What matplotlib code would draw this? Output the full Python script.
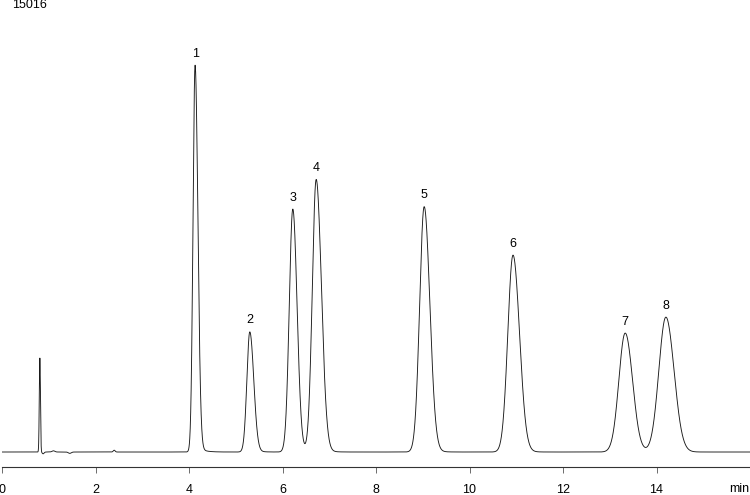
#Chromatogram with 8 numbered peaks

#Importing libraries
import numpy as np
import matplotlib.pyplot as plt

plt.rcParams['font.family'] = ['Liberation Sans', 'DejaVu Sans']

#Peak table (retention time in min, height, width, tailing)
peak_labels = ['1', '2', '3', '4', '5', '6', '7', '8']
peak_times = [4.13, 5.30, 6.22, 6.72, 9.03, 10.93, 13.33, 14.20]
peak_heights = [12850, 3990, 8070, 9050, 8150, 6540, 3950, 4480]
peak_sigmas = [0.044, 0.062, 0.075, 0.082, 0.096, 0.110, 0.135, 0.150]
peak_tailing = [1.35, 1.35, 1.2, 1.35, 1.25, 1.25, 1.15, 1.15]

#Unlabelled features: injection spike and small baseline wiggles
small_times = [0.81, 0.88, 1.10, 1.45, 2.40]
small_heights = [3120, -60, 40, -45, 60]
small_sigmas = [0.012, 0.02, 0.03, 0.03, 0.02]

y_top = 15016
x_max = 16
tick_values = [0, 2, 4, 6, 8, 10, 12, 14]

#Building the trace from the peak table
t = np.linspace(0, x_max, 8001)
signal = np.zeros_like(t)
for t0, h, s, tail in zip(peak_times, peak_heights, peak_sigmas, peak_tailing):
    s_side = np.where(t < t0, s, s * tail)
    signal += h * np.exp(-0.5 * ((t - t0) / s_side) ** 2)
    #small exponential tail after each peak
    after = np.clip(t - t0 - 1.5 * s, 0, None)
    ramp = np.clip((t - t0) / (1.5 * s), 0, 1)
    signal += 0.012 * h * ramp * np.exp(-after / 0.12)
for t0, h, s in zip(small_times, small_heights, small_sigmas):
    signal += h * np.exp(-0.5 * ((t - t0) / s) ** 2)

fig = plt.figure(figsize=(7.5, 4.95), dpi=100)
ax = fig.add_axes([2 / 750, 28 / 495, 748 / 750, 467 / 495])
ax.plot(t, signal, color='#1a1a1a', linewidth=0.65)

ax.set_xlim(0, x_max)
ax.set_ylim(-498, y_top)

for side in ['left', 'top', 'right']:
    ax.spines[side].set_visible(False)
ax.spines['bottom'].set_linewidth(0.8)
ax.spines['bottom'].set_color('#333333')
ax.set_yticks([])
ax.set_xticks(tick_values)
ax.set_xticklabels([str(v) for v in tick_values])
ax.tick_params(axis='x', direction='out', length=4.5, width=0.6, color='#555555',
               pad=7.5, labelsize=9)

#Peak numbers above the apexes
for lab, t0, h in zip(peak_labels, peak_times, peak_heights):
    i = np.argmin(np.abs(t - t0))
    top = signal[max(i - 60, 0):i + 60].max()
    ax.annotate(lab, (t0, top), xytext=(0, 4), textcoords='offset points',
                ha='center', va='bottom', fontsize=9)

fig.text(12 / 750, 1 - 5 / 495, str(y_top), ha='left', va='center', fontsize=9)
fig.text(749 / 750, 1 - 489 / 495, 'min', ha='right', va='center', fontsize=9)

plt.savefig('out.png', dpi=100)
plt.close()
